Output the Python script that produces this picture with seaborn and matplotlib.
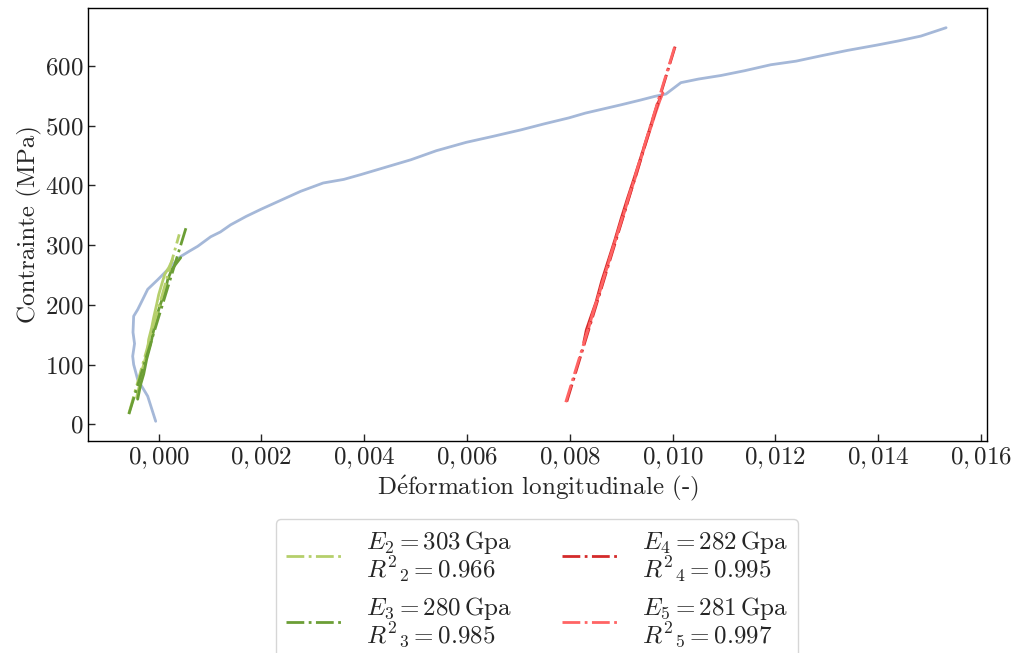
#courbe contrainte-deformation avec modules d'Young
import numpy as np
import pandas as pd
import matplotlib
matplotlib.use('Agg')
import matplotlib.pyplot as plt
import matplotlib.ticker as mticker
import seaborn as sns

#courbe de reference (bleue)
eps_ref = [-0.0000584, -0.000214, -0.000409, -0.000487, -0.000506, -0.000470, -0.000500, -0.000487,
           -0.000409, -0.000311, -0.000214, -0.0000195, 0.000234, 0.000428, 0.000600, 0.000759,
           0.001012, 0.00120, 0.00140, 0.00170, 0.00199, 0.00240, 0.00276, 0.00320, 0.00360,
           0.00393, 0.00440, 0.00491, 0.00540, 0.00598, 0.00650, 0.00705, 0.00750, 0.00798,
           0.00830, 0.00860, 0.00900, 0.00938, 0.00965, 0.00987, 0.01016, 0.01050, 0.01094,
           0.01140, 0.01191, 0.01240, 0.01289, 0.01340, 0.01398, 0.01440, 0.01483, 0.01532]
sig_ref = [5, 47, 75, 100, 114, 135, 154, 181,
           192, 209, 226, 242, 264, 281, 290, 298,
           314, 322, 334, 348, 360, 376, 390, 404, 410,
           418, 430, 443, 458, 472, 482, 493, 503, 513,
           521, 527, 535, 543, 549, 553, 572, 578, 584,
           592, 602, 608, 617, 626, 635, 642, 650, 664]

#essais (donnees brutes)
eps_2 = [-0.000428, -0.000370, -0.000331, -0.000292, -0.000214, -0.000195, -0.000136,
         -0.000097, -0.000039, 0.0, 0.000058, 0.000117, 0.000195, 0.000272]
sig_2 = [45, 67, 89, 100, 125, 142, 162, 179, 201, 217, 234, 251, 262, 276]

eps_3 = [-0.000409, -0.000350, -0.000292, -0.000234, -0.000156, -0.000117, -0.000058,
         0.0, 0.000078, 0.000136, 0.000175, 0.000253, 0.000331, 0.000428]
sig_3 = [42, 67, 84, 109, 134, 150, 172, 192, 212, 226, 242, 259, 268, 279]

eps_4 = [0.00827, 0.00832, 0.00840, 0.00851, 0.00862, 0.00875, 0.00888, 0.00900,
         0.00912, 0.00925, 0.00938, 0.00950, 0.00962, 0.00970, 0.00977]
sig_4 = [137, 158, 178, 205, 240, 275, 310, 345, 378, 412, 447, 480, 513, 535, 548]

eps_5 = [0.00831, 0.00838, 0.00846, 0.00857, 0.00868, 0.00880, 0.00893, 0.00905,
         0.00917, 0.00930, 0.00943, 0.00955, 0.00967, 0.00975, 0.00981]
sig_5 = [147, 165, 190, 218, 250, 284, 320, 352, 386, 420, 458, 490, 522, 542, 555]

#droites de regression (extremites)
fit_eps = {2: [-0.00058, 0.00040], 3: [-0.00058, 0.00055], 4: [0.00794, 0.01005], 5: [0.00792, 0.01006]}
fit_sig = {2: [18, 318], 3: [17, 334], 4: [38, 633], 5: [37, 638]}
E_vals = {2: 303, 3: 280, 4: 282, 5: 281}
R2_vals = {2: 0.966, 3: 0.985, 4: 0.995, 5: 0.997}

colors = {2: '#b5cf6b', 3: '#6b9e35', 4: '#d42a2a', 5: '#ff6464'}
data = {2: (eps_2, sig_2), 3: (eps_3, sig_3), 4: (eps_4, sig_4), 5: (eps_5, sig_5)}

sns.set_style('ticks')
plt.rcParams['font.family'] = 'serif'
plt.rcParams['font.serif'] = ['cmr10']
plt.rcParams['mathtext.fontset'] = 'cm'
plt.rcParams['axes.unicode_minus'] = False
plt.rcParams['axes.formatter.use_mathtext'] = True

fig, ax = plt.subplots(figsize=(10.2, 6.53), dpi=100)
fig.subplots_adjust(left=0.0863, right=0.9676, top=0.9877, bottom=0.3247)

sns.lineplot(x=eps_ref, y=sig_ref, sort=False, estimator=None, color='#a5b8d8', lw=2, ax=ax)

for k in [2, 3, 4, 5]:
    e, s = data[k]
    sns.lineplot(x=e, y=s, sort=False, estimator=None, color=colors[k], lw=2, ax=ax)

for k in [2, 3, 4, 5]:
    lab = r'$E_%d = %d\,\mathrm{Gpa}$' % (k, E_vals[k]) + '\n' + r'$R^2{}_%d = %.3f$' % (k, R2_vals[k])
    sns.lineplot(x=fit_eps[k], y=fit_sig[k], sort=False, estimator=None, color=colors[k],
                 lw=2, linestyle='-.', label=lab, ax=ax)

ax.xaxis.set_major_locator(mticker.MultipleLocator(0.002))
ax.yaxis.set_major_locator(mticker.MultipleLocator(100))
ax.xaxis.set_major_formatter(mticker.FuncFormatter(lambda v, p: ('$%.3f$' % v).replace('.', ',')))
ax.yaxis.set_major_formatter(mticker.FuncFormatter(lambda v, p: '$%d$' % round(v)))
ax.tick_params(direction='in', length=5, width=1, labelsize=18)
for sp in ax.spines.values():
    sp.set_linewidth(1)
    sp.set_color('black')

ax.set_xlabel(r'D$\acute{\mathrm{e}}$formation longitudinale (-)', fontsize=18, labelpad=2)
ax.set_ylabel('Contrainte (MPa)', fontsize=18, labelpad=2)

leg = ax.legend(loc='upper center', bbox_to_anchor=(0.5, -0.18), borderaxespad=0, ncol=2, fontsize=18,
                handlelength=2.2, handletextpad=1.0, columnspacing=2.0, labelspacing=0.45,
                borderpad=0.4, frameon=True)
for t in leg.get_texts():
    t.set_linespacing(0.92)

fig.savefig('out.png', dpi=100)
